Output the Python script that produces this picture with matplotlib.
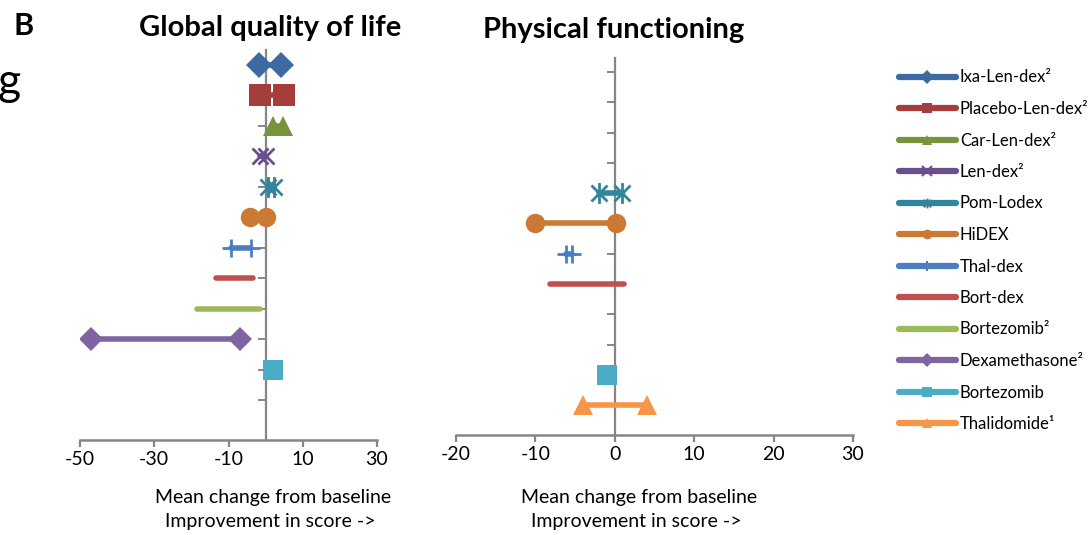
import numpy as np
import matplotlib
matplotlib.use("Agg")
from matplotlib import pyplot as plt
from matplotlib.path import Path
from matplotlib.lines import Line2D

plt.rcParams['font.family'] = ['Lato', 'DejaVu Sans']
plt.rcParams['axes.unicode_minus'] = False

nan = np.nan

treatments = ['Ixa-Len-dex²', 'Placebo-Len-dex²', 'Car-Len-dex²', 'Len-dex²',
              'Pom-Lodex', 'HiDEX', 'Thal-dex', 'Bort-dex', 'Bortezomib²',
              'Dexamethasone²', 'Bortezomib', 'Thalidomide¹']
colors = ['#3E6AA3', '#A33E3B', '#77933C', '#6A4F8C', '#31859C', '#CC7A33',
          '#4A7EC1', '#C0504D', '#9BBB59', '#8064A2', '#4BACC6', '#F79646']

# mean change from baseline, two end points per treatment
qol_low = [-1.7, -1.5, 2.1, -1.5, 0.7, -4.2, -9.2, -13.4, -18.6, -47.1, 2.1, nan]
qol_high = [4.1, 4.9, 4.7, 0.2, 2.3, 0.0, -4.0, -3.3, -1.4, -6.9, nan, nan]
pf_low = [nan, nan, nan, nan, -2.0, -10.1, -6.1, -8.2, nan, nan, -1.0, -4.0]
pf_high = [nan, nan, nan, nan, 0.9, 0.1, -5.4, 1.1, nan, nan, nan, 4.0]

qol_ticks = [-50, -30, -10, 10, 30]
pf_ticks = [-20, -10, 0, 10, 20, 30]

star = Path([(-1, -1), (1, 1), (-1, 1), (1, -1), (0, -1.3), (0, 1.3)],
            [Path.MOVETO, Path.LINETO] * 3)
markers = ['D', 's', '^', 'x', star, 'o', '+', None, None, 'D', 's', '^']
msizes = [13, 16, 15, 12, 15, 14, 13, 0, 0, 12.5, 15, 15]
GRAY = '#868686'


def is_open(m):
    return m in ('x', '+') or isinstance(m, Path)


def draw_panel(ax, low, high, ticks, ylim):
    for i in range(len(treatments)):
        xs = [v for v in (low[i], high[i]) if np.isfinite(v)]
        if not xs:
            continue
        y = [i + 1] * len(xs)
        m = markers[i]
        ax.plot(xs, y, color=colors[i], lw=4, solid_capstyle='round',
                marker=m, ms=msizes[i], mew=2 if is_open(m) else 0,
                mec=colors[i], zorder=3)
    ax.set_xlim(ticks[0], ticks[-1])
    ax.set_ylim(ylim)
    ax.set_xticks(ticks)
    ax.set_yticks(range(1, 13))
    ax.set_yticklabels([])
    for s in ('top', 'right'):
        ax.spines[s].set_visible(False)
    ax.spines['left'].set_position(('data', 0))
    ax.spines['left'].set_color(GRAY)
    ax.spines['bottom'].set_color(GRAY)
    ax.spines['left'].set_linewidth(1.6)
    ax.spines['bottom'].set_linewidth(1.8)
    ax.tick_params(axis='x', colors=GRAY, width=1.6, length=5,
                   labelsize=14, labelcolor='black', pad=3)
    ax.tick_params(axis='y', colors=GRAY, width=1.4, length=6)


fig = plt.figure(figsize=(10.92, 5.35), dpi=100)
W, H = 1092, 535

ax1 = fig.add_axes([80 / W, 1 - 440 / H, 297 / W, 390 / H])
draw_panel(ax1, qol_low, qol_high, qol_ticks, (13.3, 0.51))
ax2 = fig.add_axes([456 / W, 1 - 435 / H, 397 / W, 377 / H])
draw_panel(ax2, pf_low, pf_high, pf_ticks, (12.98, 0.54))

fig.text(270 / W, 1 - 28 / H, 'Global quality of life', ha='center', va='center',
         fontsize=21, fontweight='bold')
fig.text(614 / W, 1 - 30 / H, 'Physical functioning', ha='center', va='center',
         fontsize=21, fontweight='bold')
fig.text(24 / W, 1 - 26 / H, 'B', ha='center', va='center', fontsize=22,
         fontweight='bold')
fig.text(21 / W, 1 - 82 / H, 'g', ha='right', va='center', fontsize=32)

for cx in (273, 639):
    fig.text(cx / W, 1 - 497 / H, 'Mean change from baseline', ha='center',
             va='center', fontsize=14)
    fig.text((cx - 3) / W, 1 - 522 / H, 'Improvement in score ->', ha='center',
             va='center', fontsize=14)

handles = []
for i in range(len(treatments)):
    m = markers[i]
    handles.append(Line2D([], [], color=colors[i], lw=4.5, solid_capstyle='round',
                          marker=m, ms=7, mew=1.5 if is_open(m) else 0,
                          mec=colors[i]))
fig.legend(handles, treatments, loc='upper left',
           bbox_to_anchor=(899 / W, 1 - 69.5 / H), frameon=False, fontsize=12,
           handlelength=3.4, handletextpad=0.25, labelspacing=0.93,
           numpoints=1, borderaxespad=0, borderpad=0)

fig.savefig('out.png', dpi=100)
